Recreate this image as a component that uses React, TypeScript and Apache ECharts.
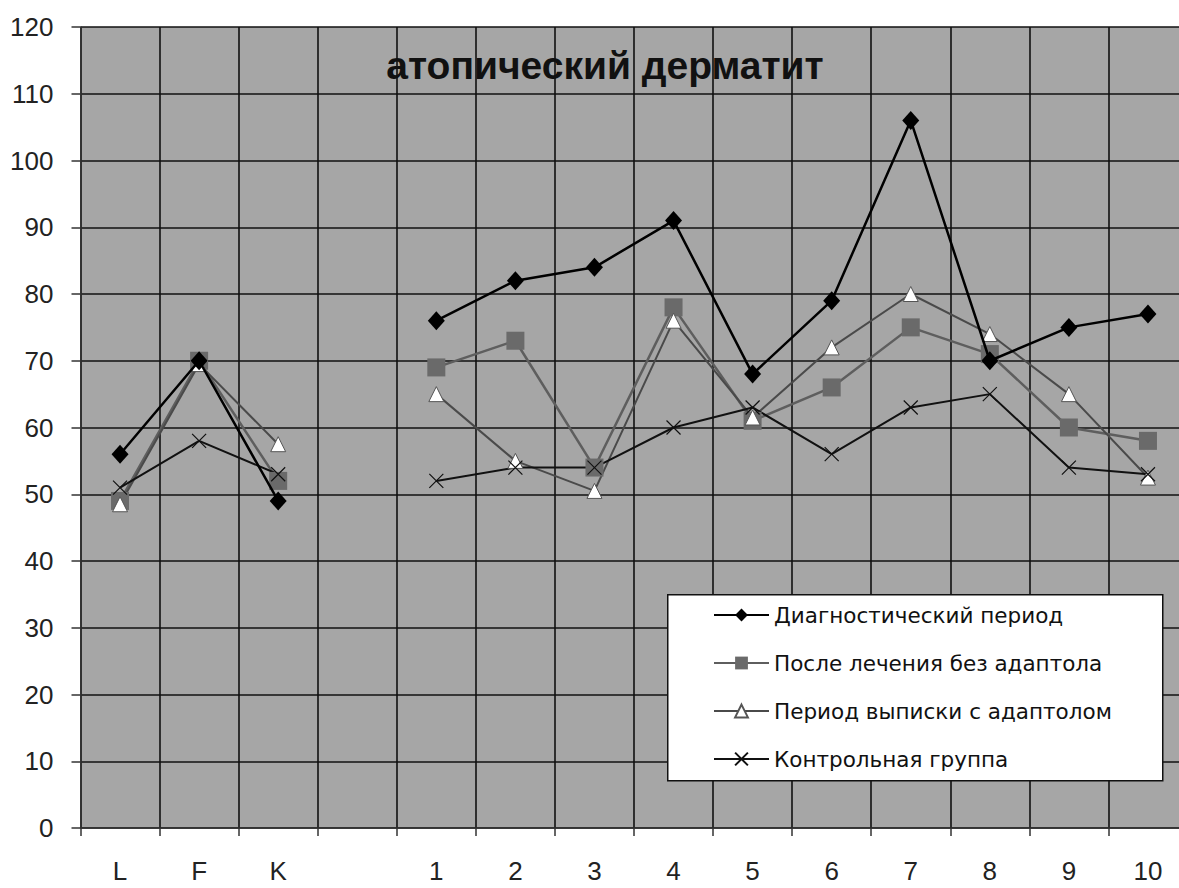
import React, { useEffect, useRef } from "react";
import * as echarts from "echarts";

const categories = ["L", "F", "K", "", "1", "2", "3", "4", "5", "6", "7", "8", "9", "10"];
const seriesNames = [
  "Диагностический период",
  "После лечения без адаптола",
  "Период выписки с адаптолом",
  "Контрольная группа",
];
const diagnostic = [56, 70, 49, null, 76, 82, 84, 91, 68, 79, 106, 70, 75, 77];
const afterNoAdaptol = [49, 70, 52, null, 69, 73, 54, 78, 61, 66, 75, 71, 60, 58];
const dischargeAdaptol = [48.5, 69.5, 57.5, null, 65, 55, 50.5, 76, 61.5, 72, 80, 74, 65, 52.5];
const control = [51, 58, 53, null, 52, 54, 54, 60, 63, 56, 63, 65, 54, 53];
const yTicks = { min: 0, max: 120, interval: 10 };
const titleText = "атопический дерматит";

const FONT = "'Liberation Sans', Arial, sans-serif";
const LEGEND_FONT = "'DejaVu Sans', sans-serif";

export default function App() {
  const ref = useRef<HTMLDivElement>(null);
  useEffect(() => {
    if (!ref.current) return;
    const chart = echarts.init(ref.current, undefined, { renderer: "svg" });
    chart.setOption({
      animation: false,
      backgroundColor: "#ffffff",
      grid: {
        left: 80.5,
        top: 27,
        bottom: 60,
        right: 0.5,
        show: true,
        backgroundColor: "#a6a6a6",
        borderWidth: 0,
      },
      xAxis: {
        type: "category",
        data: categories,
        boundaryGap: true,
        axisLine: { show: true, lineStyle: { color: "#333", width: 1.5 } },
        axisTick: { show: true, length: 8, lineStyle: { color: "#333", width: 1.5 } },
        axisLabel: { color: "#222", fontSize: 26, fontFamily: FONT, margin: 30, interval: 0 },
        splitLine: { show: true, interval: 0, lineStyle: { color: "#111", width: 1.6 } },
      },
      yAxis: {
        type: "value",
        min: yTicks.min,
        max: yTicks.max,
        interval: yTicks.interval,
        axisLine: { show: true, lineStyle: { color: "#333", width: 1.5 } },
        axisTick: { show: true, length: 9, lineStyle: { color: "#333", width: 1.5 } },
        axisLabel: { color: "#222", fontSize: 26, fontFamily: FONT, margin: 27 },
        splitLine: { show: true, lineStyle: { color: "#111", width: 1.6 } },
      },
      legend: {
        show: true,
        orient: "vertical",
        left: 708,
        top: 599,
        z: 20,
        itemWidth: 55,
        itemHeight: 16,
        itemGap: 26,
        selectedMode: false,
        data: seriesNames,
        textStyle: { color: "#111", fontSize: 21.5, fontFamily: LEGEND_FONT, lineHeight: 22 },
      },
      graphic: [
        {
          type: "rect",
          left: 667,
          top: 594,
          z: 1,
          shape: { width: 495, height: 186 },
          style: { fill: "#ffffff", stroke: "#111", lineWidth: 1.5 },
        },
        {
          type: "text",
          x: 605,
          y: 65,
          z: 10,
          style: {
            text: titleText,
            font: `bold 39px ${FONT}`,
            fill: "#111",
            textAlign: "center",
            textVerticalAlign: "middle",
          },
        },
      ],
      series: [
        {
          name: seriesNames[0],
          type: "line",
          data: diagnostic,
          connectNulls: false,
          symbol: "diamond",
          symbolSize: [17, 19],
          lineStyle: { color: "#000", width: 2.5 },
          itemStyle: { color: "#000" },
          z: 4,
        },
        {
          name: seriesNames[1],
          type: "line",
          data: afterNoAdaptol,
          connectNulls: false,
          symbol: "rect",
          symbolSize: 18,
          lineStyle: { color: "#5e5e5e", width: 2.5 },
          itemStyle: { color: "#6a6a6a" },
          z: 3,
        },
        {
          name: seriesNames[2],
          type: "line",
          data: dischargeAdaptol,
          connectNulls: false,
          symbol: "triangle",
          symbolSize: [15, 15],
          lineStyle: { color: "#4a4a4a", width: 2 },
          itemStyle: { color: "#ffffff", borderColor: "#555", borderWidth: 1 },
          z: 3,
        },
        {
          name: seriesNames[3],
          type: "line",
          data: control,
          connectNulls: false,
          symbol: "path://M0,0L10,10M10,0L0,10",
          symbolSize: 14,
          lineStyle: { color: "#111", width: 2 },
          itemStyle: { color: "#111", borderColor: "#111", borderWidth: 1.2 },
          z: 3,
        },
      ],
    });
    return () => chart.dispose();
  }, []);
  return (
    <div style={{ position: "absolute", left: 0, top: 0, width: 1179, height: 888, overflow: "hidden" }}>
      <div ref={ref} style={{ width: 1188, height: 888 }} />
    </div>
  );
}
